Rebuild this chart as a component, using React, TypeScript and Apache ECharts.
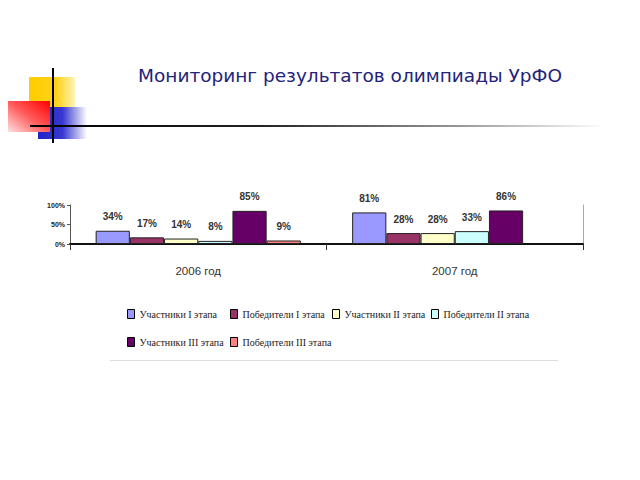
import React, { useEffect, useRef } from "react";
import * as echarts from "echarts";

const categories = ["2006 год", "2007 год"];
const seriesNames = [
  "Участники I этапа",
  "Победители I этапа",
  "Участники II этапа",
  "Победители II этапа",
  "Участники III этапа",
  "Победители III этапа",
];
const uch1 = [34, 81];
const pob1 = [17, 28];
const uch2 = [14, 28];
const pob2 = [8, 33];
const uch3 = [85, 86];
const pob3: (number | null)[] = [9, null];
const yTicks = [0, 50, 100];
const title = "Мониторинг результатов олимпиады УрФО";

const seriesValues = [uch1, pob1, uch2, pob2, uch3, pob3];
const colors = ["#9999FF", "#993366", "#FFFFCC", "#CCFFFF", "#660066", "#FF8080"];

// legend item slots (layout only)
const legendSlots = [
  [127, 309],
  [230, 309],
  [332, 309],
  [431, 309],
  [127, 337],
  [230, 337],
];

const narrow = "'Liberation Sans', Arial, sans-serif";
const serif = "'Liberation Serif', 'Times New Roman', serif";

export default function App() {
  const ref = useRef<HTMLDivElement>(null);
  useEffect(() => {
    if (!ref.current) return;
    const chart = echarts.init(ref.current, undefined, { renderer: "svg" });
    const legends = seriesNames.map((name, i) => ({
      orient: "horizontal" as const,
      left: legendSlots[i][0],
      top: legendSlots[i][1],
      padding: 0,
      itemWidth: 7,
      itemHeight: 9,
      icon: "rect",
      itemStyle: { borderColor: "#000", borderWidth: 1 },
      textStyle: {
        fontFamily: serif,
        fontSize: 10,
        color: "#222",
      },
      data: [name],
    }));
    chart.setOption({
      animation: false,
      backgroundColor: "#fff",
      color: colors,
      grid: { left: 70, right: 57, top: 205, bottom: 236, containLabel: false },
      legend: legends,
      xAxis: {
        type: "category",
        data: categories,
        axisLine: { lineStyle: { color: "#111", width: 2 } },
        axisTick: { show: true, length: 6, lineStyle: { color: "#333" } },
        axisLabel: {
          margin: 21,
          fontFamily: narrow,
          fontSize: 11.5,
          color: "#333",
        },
      },
      yAxis: [
        {
          type: "value",
          min: yTicks[0],
          max: yTicks[yTicks.length - 1],
          interval: yTicks[1] - yTicks[0],
          axisLine: { show: true, lineStyle: { color: "#555" } },
          axisTick: { show: true, length: 3, lineStyle: { color: "#555" } },
          splitLine: { show: false },
          axisLabel: {
            formatter: "{value}%",
            margin: 5,
            fontFamily: narrow,
            fontSize: 7,
            fontWeight: "bold",
            color: "#222",
          },
        },
        {
          type: "value",
          position: "right",
          min: yTicks[0],
          max: yTicks[yTicks.length - 1],
          interval: yTicks[1] - yTicks[0],
          axisLine: { show: true, lineStyle: { color: "#aaa" } },
          axisTick: { show: false },
          axisLabel: { show: false },
          splitLine: { show: false },
        },
      ],
      series: seriesNames.map((name, i) => ({
        name,
        type: "bar",
        data: seriesValues[i],
        barGap: "0%",
        barCategoryGap: "20%",
        itemStyle: { color: colors[i], borderColor: "#222", borderWidth: 1 },
        label: {
          show: true,
          position: "top",
          distance: 9,
          formatter: "{c}%",
          fontFamily: narrow,
          fontSize: 10,
          fontWeight: "bold",
          color: "#333",
        },
      })),
      graphic: [
        {
          type: "rect",
          shape: { x: 29, y: 77, width: 46, height: 31 },
          style: {
            fill: new echarts.graphic.LinearGradient(0, 0, 1, 0, [
              { offset: 0, color: "#FFCC00" },
              { offset: 0.6, color: "#FFD21A" },
              { offset: 1, color: "#FFF4B8" },
            ]),
          },
        },
        {
          type: "rect",
          shape: { x: 38, y: 107, width: 49, height: 32 },
          style: {
            fill: new echarts.graphic.LinearGradient(0, 0, 1, 0, [
              { offset: 0, color: "#2222C8" },
              { offset: 0.5, color: "#3838D0" },
              { offset: 1, color: "#FFFFFF" },
            ]),
          },
        },
        {
          type: "rect",
          shape: { x: 8, y: 101, width: 42, height: 31 },
          style: {
            fill: new echarts.graphic.LinearGradient(1, 0, 0, 1, [
              { offset: 0, color: "#FF0000" },
              { offset: 0.5, color: "#FF5A5A" },
              { offset: 1, color: "#FFE0E0" },
            ]),
          },
        },
        {
          type: "rect",
          shape: { x: 30, y: 125, width: 575, height: 2 },
          style: {
            fill: new echarts.graphic.LinearGradient(0, 0, 1, 0, [
              { offset: 0, color: "#000000" },
              { offset: 0.4, color: "#222222" },
              { offset: 0.75, color: "#999999" },
              { offset: 1, color: "#FFFFFF" },
            ]),
          },
        },
        {
          type: "rect",
          shape: { x: 52, y: 68, width: 2, height: 75 },
          style: { fill: "#000" },
        },
        {
          type: "text",
          left: 138,
          top: 66,
          style: {
            text: title,
            fontFamily: "'DejaVu Sans', Tahoma, sans-serif",
            fontSize: 18.5,
            fill: "#23237A",
          },
        },
        {
          type: "rect",
          shape: { x: 110, y: 360, width: 448, height: 1 },
          style: { fill: "#DDDDDD" },
        },
      ],
    });
    return () => chart.dispose();
  }, []);
  return (
    <div
      ref={ref}
      style={{ position: "fixed", left: 0, top: 0, width: 640, height: 480 }}
    />
  );
}
